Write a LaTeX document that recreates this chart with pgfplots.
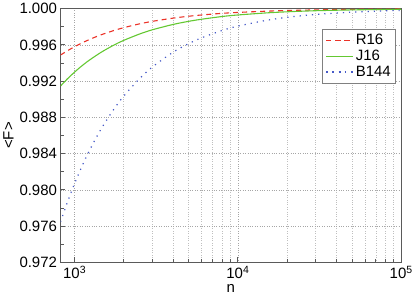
\documentclass[border=0pt]{standalone}
\usepackage{pgfplots}
\pgfplotsset{compat=1.18}
\usepackage{fontspec}
\setmainfont{Liberation Sans}
\definecolor{cred}{RGB}{235,50,40}
\definecolor{cgreen}{RGB}{100,200,50}
\definecolor{cblue}{RGB}{70,90,200}
\definecolor{axgray}{RGB}{90,90,90}
\begin{document}
\begin{tikzpicture}
\begin{axis}[
  scale only axis,
  width=341pt, height=254pt,
  xmode=log,
  xmin=820, xmax=100000,
  ymin=0.972, ymax=1.000,
  font=\fontsize{15}{17}\selectfont,
  /pgf/number format/assume math mode=true,
  xtick={1000,10000,100000},
  xticklabels={10\textsuperscript{3},10\textsuperscript{4},10\textsuperscript{5}},
  ytick={0.972,0.976,0.980,0.984,0.988,0.992,0.996,1.000},
  yticklabels={0.972,0.976,0.980,0.984,0.988,0.992,0.996,1.000},
  minor ytick={0.974,0.978,0.982,0.986,0.990,0.994,0.998},
  tick align=inside,
  xtick pos=left, ytick pos=left,
  major tick length=5pt, minor tick length=3pt,
  every tick/.style={axgray, line width=0.8pt},
  axis line style={axgray, line width=1.2pt},
  xmajorgrids=true, xminorgrids=true, ymajorgrids=true, yminorgrids=false,
  major grid style={gray!70, dotted, line width=0.6pt},
  minor grid style={gray!50, dotted, line width=0.6pt},
  xlabel={n}, ylabel={<F>},
  xlabel style={yshift=1pt},
  ylabel style={yshift=-1pt},
  legend style={at={(0.985,0.92)}, anchor=north east, draw=gray, line width=0.6pt,
    fill=white, font=\fontsize{15}{17}\selectfont, row sep=0pt, inner sep=3pt},
  legend cell align=left,
  legend image code/.code={\draw plot coordinates {(0pt,0pt) (27pt,0pt)};},
]
\addplot[cred, dashed, line width=1.1pt, dash pattern=on 5pt off 4pt, smooth] coordinates {
(820,0.99488) (900,0.99533) (1000,0.99580) (1100,0.99618) (1200,0.99650) (1350,0.99689)
(1500,0.99720) (1750,0.99760) (2000,0.99790) (2500,0.99832) (3000,0.99860) (4000,0.99895)
(5000,0.99916) (6000,0.99930) (8000,0.99948) (10000,0.99958) (15000,0.99972) (20000,0.99979)
(30000,0.99986) (50000,0.99992) (70000,0.99994) (100000,0.99996)};
\addlegendentry{R16}
\addplot[cgreen, solid, line width=1.1pt, smooth] coordinates {
(820,0.99146) (900,0.99222) (1000,0.99300) (1100,0.99364) (1200,0.99417) (1350,0.99481)
(1500,0.99533) (1750,0.99600) (2000,0.99650) (2500,0.99720) (3000,0.99767) (4000,0.99825)
(5000,0.99860) (6000,0.99883) (8000,0.99913) (10000,0.99930) (15000,0.99953) (20000,0.99965)
(30000,0.99977) (50000,0.99986) (70000,0.99990) (100000,0.99993)};
\addlegendentry{J16}
\addplot[cblue, line width=1.2pt, dash pattern=on 1.2pt off 5pt, smooth] coordinates {
(820,0.97646) (900,0.97856) (1000,0.98070) (1100,0.98245) (1200,0.98392) (1350,0.98570)
(1500,0.98713) (1750,0.98897) (2000,0.99035) (2500,0.99228) (3000,0.99357) (4000,0.99518)
(5000,0.99614) (6000,0.99678) (8000,0.99759) (10000,0.99807) (15000,0.99871) (20000,0.99904)
(30000,0.99936) (50000,0.99961) (70000,0.99972) (100000,0.99981)};
\addlegendentry{B144}
\end{axis}
\end{tikzpicture}
\end{document}
